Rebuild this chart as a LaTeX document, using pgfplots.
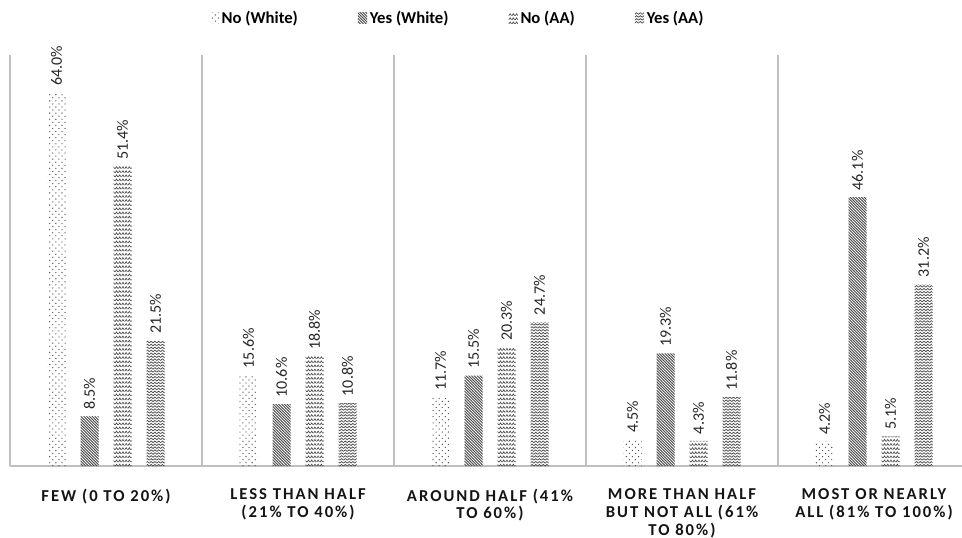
\documentclass[border=0pt]{standalone}
\usepackage{pgfplots}
\pgfplotsset{compat=1.18}
\usepackage{fontspec}
\setmainfont{Carlito}
\newfontfamily\spaced[LetterSpace=12]{Carlito}
\usetikzlibrary{patterns}
\definecolor{patc}{HTML}{4A4A4A}
% sparse staggered dots
\pgfdeclarepatternformonly{mydots}{\pgfqpoint{-1pt}{-1pt}}{\pgfqpoint{5.5pt}{5.5pt}}{\pgfqpoint{4.6pt}{4.6pt}}{%
  \pgfpathcircle{\pgfqpoint{0.5pt}{0.5pt}}{0.5pt}%
  \pgfpathcircle{\pgfqpoint{2.8pt}{2.8pt}}{0.5pt}%
  \pgfusepath{fill}}
% dense north-west lines
\pgfdeclarepatternformonly{mynwlines}{\pgfqpoint{-1pt}{-1pt}}{\pgfqpoint{3pt}{3pt}}{\pgfqpoint{2.1pt}{2.1pt}}{%
  \pgfsetlinewidth{0.65pt}%
  \pgfpathmoveto{\pgfqpoint{-0.1pt}{2.2pt}}\pgfpathlineto{\pgfqpoint{2.2pt}{-0.1pt}}%
  \pgfusepath{stroke}}
% small broken zigzags
\pgfdeclarepatternformonly{smallzig}{\pgfqpoint{-1pt}{-1pt}}{\pgfqpoint{4pt}{4pt}}{\pgfqpoint{2.4pt}{3.1pt}}{%
  \pgfsetlinewidth{0.5pt}%
  \pgfpathmoveto{\pgfqpoint{0pt}{0.4pt}}\pgfpathlineto{\pgfqpoint{1.0pt}{1.9pt}}\pgfpathlineto{\pgfqpoint{2.0pt}{0.4pt}}%
  \pgfusepath{stroke}}
% wavy zigzag
\pgfdeclarepatternformonly{bigzig}{\pgfqpoint{-1pt}{-1pt}}{\pgfqpoint{4pt}{3pt}}{\pgfqpoint{2.8pt}{2.2pt}}{%
  \pgfsetlinewidth{0.55pt}%
  \pgfpathmoveto{\pgfqpoint{0pt}{0.4pt}}\pgfpathlineto{\pgfqpoint{1.4pt}{1.6pt}}\pgfpathlineto{\pgfqpoint{2.8pt}{0.4pt}}%
  \pgfusepath{stroke}}
\begin{document}
\begin{tikzpicture}
\useasboundingbox (0,0) rectangle (721.5pt,402.75pt);
\begin{axis}[
  at={(7.5pt,53.25pt)}, anchor=south west,
  scale only axis, width=720pt, height=308.25pt,
  xmin=-0.5, xmax=4.5, ymin=0, ymax=70.5,
  ybar=11.25pt, bar width=13.5pt,
  axis y line=none, axis x line*=bottom,
  x axis line style={draw=black!25, line width=0.8pt, -},
  xtick={0,1,2,3,4}, major tick length=0pt,
  minor xtick={-0.5,0.5,1.5,2.5,3.5}, minor tick length=0pt,
  xminorgrids, minor grid style={draw=black!25, line width=0.8pt},
  ytick=\empty,
  xticklabels={{FEW (0 TO 20\%)},{LESS THAN HALF\\(21\% TO 40\%)},{AROUND HALF (41\%\\TO 60\%)},{MORE THAN HALF\\BUT NOT ALL (61\%\\TO 80\%)},{MOST OR NEARLY\\ALL (81\% TO 100\%)}},
  xticklabel style={align=center, anchor=north, yshift=-13.5pt, font=\spaced\bfseries\fontsize{12.5}{13.4}\selectfont, text=black!92},
  nodes near coords={\pgfmathprintnumber[fixed,fixed zerofill,precision=1,assume math mode=true]{\pgfplotspointmeta}\%},
  every node near coord/.append style={yshift=3pt, rotate=90, anchor=west, font=\fontsize{12}{14}\selectfont, text=black!85, inner sep=2pt},
  legend columns=4,
  legend style={at={(0.4666,1.09)}, anchor=center, draw=none, fill=none,
    font=\bfseries\fontsize{12.5}{14}\selectfont, text=black,
    /tikz/every even column/.append style={column sep=43pt}},
  legend cell align=left,
  legend image code/.code={\fill[#1,draw=none] (0pt,-4pt) rectangle (7pt,4pt);},
]
\addplot[draw=none, pattern=mydots, pattern color=patc] coordinates {(0,64.0) (1,15.6) (2,11.7) (3,4.5) (4,4.2)};
\addplot[draw=none, pattern=mynwlines, pattern color=patc] coordinates {(0,8.5) (1,10.6) (2,15.5) (3,19.3) (4,46.1)};
\addplot[draw=none, pattern=smallzig, pattern color=patc] coordinates {(0,51.4) (1,18.8) (2,20.3) (3,4.3) (4,5.1)};
\addplot[draw=none, pattern=bigzig, pattern color=patc] coordinates {(0,21.5) (1,10.8) (2,24.7) (3,11.8) (4,31.2)};
\legend{No (White),Yes (White),No (AA),Yes (AA)}
\end{axis}
\end{tikzpicture}
\end{document}
